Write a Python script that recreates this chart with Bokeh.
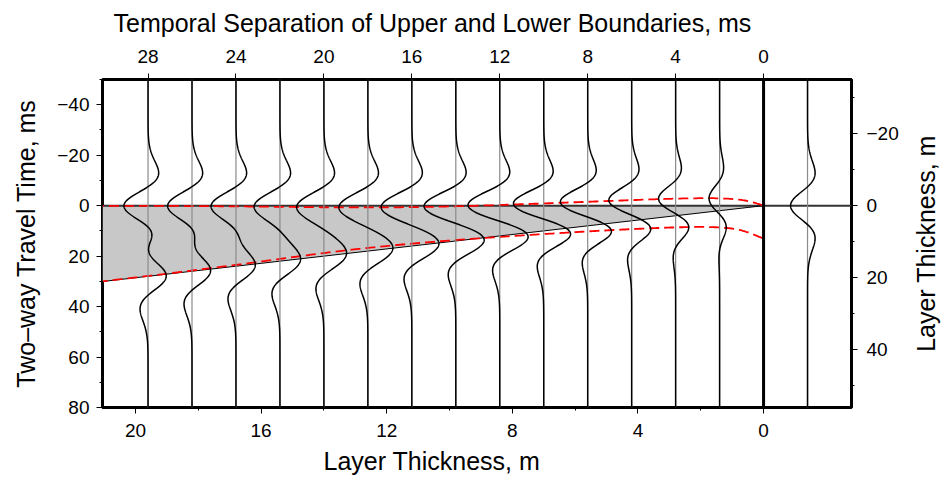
import numpy as np
from bokeh.plotting import figure
from bokeh.layouts import row
from bokeh.models import Range1d, LinearAxis, FixedTicker, Title
from bokeh.embed import file_html
from bokeh.resources import INLINE

FONT = "Liberation Sans"

# Wedge model: two-way time separation of the layer boundaries at each trace
separations_ms = [28, 26, 24, 22, 20, 18, 16, 14, 12, 10, 8, 6, 4, 2, 0]
velocity_mps = 1400.0
wavelet_freq_hz = 30.0
top_coefficient = -1.0
base_coefficient = 0.75
wedge_gain_m = 0.76
reference_gain_m = 0.54
reference_trace_x_m = -1.4

# Axis ticks
thickness_ticks = [20, 16, 12, 8, 4, 0]
thickness_minor_ticks = [18, 14, 10, 6, 2]
separation_ticks = [28, 24, 20, 16, 12, 8, 4, 0]
time_ticks = [-40, -20, 0, 20, 40, 60, 80]
time_minor_ticks = [-50, -30, -10, 10, 30, 50, 70]
depth_ticks = [-20, 0, 20, 40]
depth_minor_ticks = [-30, -10, 10, 30, 50]

# Plot extents
x_start_m, x_end_m = 21.05, -2.80
t_start_ms, t_end_ms = 80.0, -50.0

ms_per_m = 2000.0 / velocity_mps

# Page layout in pixels
FRAME_L, FRAME_R, FRAME_T, FRAME_B = 102, 851, 79, 408
MAIN_W, SIDE_W, H = 906, 37, 480


def ricker(t_ms):
    a = (np.pi * wavelet_freq_hz * t_ms / 1000.0) ** 2
    return (1.0 - 2.0 * a) * np.exp(-a)


def wedge_trace(t_ms, sep_ms):
    if sep_ms <= 0:
        return np.zeros_like(t_ms)  # no layer, no reflections
    return top_coefficient * ricker(t_ms) + base_coefficient * ricker(t_ms - sep_ms)


# Picked apparent top (trough) and base (peak) times across the wedge
t_fine = np.arange(-30.0, 60.0001, 0.05)
sep_fine = np.arange(0.05, x_start_m * ms_per_m + 0.0001, 0.05)
upper_pick, lower_pick = [], []
for s in sep_fine:
    tr = wedge_trace(t_fine, s)
    i = int(np.argmin(tr))
    j = i + int(np.argmax(tr[i:]))
    upper_pick.append(t_fine[i])
    lower_pick.append(t_fine[j])
pick_x = sep_fine / ms_per_m

p = figure(
    width=MAIN_W, height=H,
    x_range=Range1d(x_start_m, x_end_m),
    y_range=Range1d(t_start_ms, t_end_ms),
    output_backend="svg", toolbar_location=None,
    min_border_left=FRAME_L, min_border_right=MAIN_W - FRAME_R,
    min_border_top=FRAME_T, min_border_bottom=H - FRAME_B,
    title="Temporal Separation of Upper and Lower Boundaries, ms",
)
p.extra_x_ranges = {"sep": Range1d(x_start_m * ms_per_m, x_end_m * ms_per_m)}
p.extra_y_ranges = {"depth": Range1d(t_start_ms / ms_per_m, t_end_ms / ms_per_m)}

p.xgrid.visible = False
p.ygrid.visible = False
p.outline_line_color = "black"
p.outline_line_width = 3
p.outline_line_alpha = 1.0
p.background_fill_color = "white"
p.border_fill_color = "white"

p.title.align = "left"
p.title.offset = 11
p.title.vertical_align = "top"
p.title.text_font = FONT
p.title.text_font_size = "25px"
p.title.text_font_style = "normal"
p.title.text_color = "black"
p.title.text_line_height = 1.0
p.title.standoff = 16


def style_axis(ax, ticks, minor, label_standoff):
    ax.ticker = FixedTicker(ticks=ticks, minor_ticks=minor)
    ax.axis_line_color = None
    ax.major_tick_out = 6
    ax.major_tick_in = 0
    ax.minor_tick_out = 3
    ax.minor_tick_in = 0
    ax.major_tick_line_color = "black"
    ax.minor_tick_line_color = "black"
    ax.major_label_text_font = FONT
    ax.major_label_text_font_size = "19px"
    ax.major_label_text_color = "black"
    ax.major_label_standoff = label_standoff
    ax.axis_label_text_font = FONT
    ax.axis_label_text_font_size = "25px"
    ax.axis_label_text_font_style = "normal"
    ax.axis_label_text_color = "black"
    ax.major_label_overrides = {v: ("\u2212" + str(-v)) for v in ticks if v < 0}


bottom_ax = p.below[0]
style_axis(bottom_ax, thickness_ticks, thickness_minor_ticks, 10)

left_ax = p.left[0]
style_axis(left_ax, time_ticks, time_minor_ticks, 7)
left_ax.axis_label = "Two\u2013way Travel Time, ms"
left_ax.axis_label_standoff = 14

top_ax = LinearAxis(x_range_name="sep")
style_axis(top_ax, separation_ticks, [], 11)
p.add_layout(top_ax, "above")

right_ax = LinearAxis(y_range_name="depth")
style_axis(right_ax, depth_ticks, depth_minor_ticks, 9)
p.add_layout(right_ax, "right")

bottom_title = Title(text="Layer Thickness, m", align="left", offset=221,
                     text_font=FONT, text_font_size="25px", text_font_style="normal",
                     text_color="black", standoff=11)
p.add_layout(bottom_title, "below")

# Wedge body
base_t_left = x_start_m * ms_per_m
p.patch([x_start_m, 0.0, x_start_m], [0.0, 0.0, base_t_left],
        fill_color="#c8c8c8", line_color=None)
p.segment(x0=[x_start_m], y0=[0.0], x1=[x_end_m], y1=[0.0],
          line_color="#333333", line_width=2)
p.segment(x0=[x_start_m], y0=[base_t_left], x1=[0.0], y1=[0.0],
          line_color="black", line_width=1)

# Apparent boundaries picked from the synthetic traces
p.line(pick_x, upper_pick, line_color="red", line_dash="10 5", line_width=1.8)
p.line(pick_x, lower_pick, line_color="red", line_dash="10 5", line_width=1.8)

# Synthetic traces (positive amplitude plotted toward thinner layer, i.e. right)
t = np.arange(t_end_ms, t_start_ms + 0.001, 0.2)
trace_x = [s / ms_per_m for s in separations_ms] + [reference_trace_x_m]
p.segment(x0=trace_x, y0=[t_end_ms] * len(trace_x), x1=trace_x, y1=[t_start_ms] * len(trace_x),
          line_color="#8a8a8a", line_width=1.2)

xs, ys = [], []
for s, x0 in zip(separations_ms, trace_x):
    xs.append(x0 - wedge_gain_m * wedge_trace(t, s))
    ys.append(t)
xs.append(reference_trace_x_m - reference_gain_m * top_coefficient * ricker(t))
ys.append(t)
p.multi_line(xs, ys, line_color="black", line_width=1.5)

# Divider between the wedge and the reference trace
p.segment(x0=[0.0], y0=[t_end_ms], x1=[0.0], y1=[t_start_ms],
          line_color="black", line_width=3)

# Narrow strip carrying the right-hand axis title (reads upward like the left one)
side = figure(
    width=SIDE_W, height=H,
    x_range=Range1d(0, 1), y_range=Range1d(0, 1),
    output_backend="svg", toolbar_location=None,
    x_axis_location=None,
    min_border_left=SIDE_W - 4, min_border_right=0,
    min_border_top=FRAME_T, min_border_bottom=H - FRAME_B,
)
side.xgrid.visible = False
side.ygrid.visible = False
side.outline_line_color = None
side.background_fill_color = "white"
side.border_fill_color = "white"
side_ax = side.left[0]
side_ax.ticker = FixedTicker(ticks=[], minor_ticks=[])
side_ax.axis_line_color = None
side_ax.major_tick_out = 0
side_ax.major_tick_in = 0
side_ax.minor_tick_out = 0
side_ax.minor_tick_in = 0
side_ax.major_label_standoff = 0
side_ax.axis_label = "Layer Thickness, m"
side_ax.axis_label_standoff = 0
side_ax.axis_label_text_font = FONT
side_ax.axis_label_text_font_size = "25px"
side_ax.axis_label_text_font_style = "normal"
side_ax.axis_label_text_color = "black"

layout = row(p, side)
open("out.html", "w").write(file_html(layout, INLINE))
